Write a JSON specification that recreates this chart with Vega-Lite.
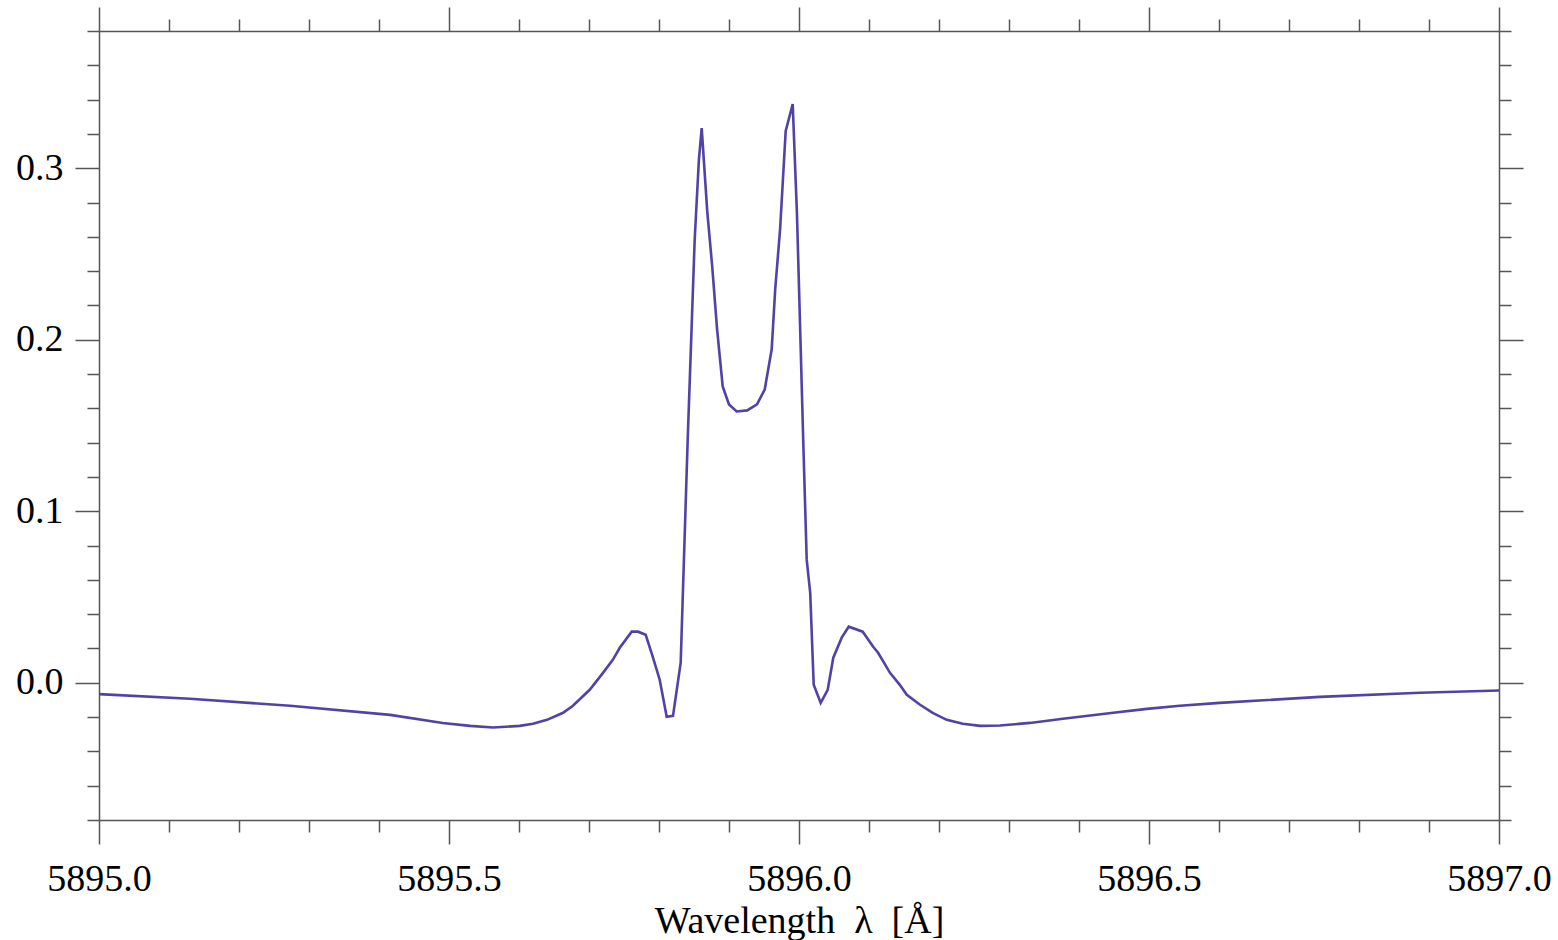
{
  "$schema": "https://vega.github.io/schema/vega-lite/v6.json",
  "autosize": "none",
  "width": 1400,
  "height": 789,
  "padding": {"left": 99, "top": 31, "right": 59, "bottom": 120},
  "background": "white",
  "config": {
    "view": {"stroke": null},
    "axis": {
      "labelFont": "Liberation Serif",
      "titleFont": "Liberation Serif",
      "labelFontSize": 38,
      "titleFontSize": 38,
      "titleFontWeight": "normal",
      "labelColor": "black",
      "titleColor": "black",
      "domainColor": "#555555",
      "tickColor": "#555555",
      "domainWidth": 1.5,
      "tickWidth": 1.5,
      "grid": false
    }
  },
  "data": {
    "values": [
      {"wl": 5895.000, "f": -0.0066},
      {"wl": 5895.130, "f": -0.0093},
      {"wl": 5895.273, "f": -0.0134},
      {"wl": 5895.416, "f": -0.0187},
      {"wl": 5895.491, "f": -0.0234},
      {"wl": 5895.530, "f": -0.0251},
      {"wl": 5895.563, "f": -0.0261},
      {"wl": 5895.601, "f": -0.0251},
      {"wl": 5895.620, "f": -0.0239},
      {"wl": 5895.640, "f": -0.0216},
      {"wl": 5895.663, "f": -0.0175},
      {"wl": 5895.677, "f": -0.0134},
      {"wl": 5895.701, "f": -0.0041},
      {"wl": 5895.720, "f": 0.0058},
      {"wl": 5895.734, "f": 0.0134},
      {"wl": 5895.744, "f": 0.0204},
      {"wl": 5895.761, "f": 0.0298},
      {"wl": 5895.770, "f": 0.0298},
      {"wl": 5895.781, "f": 0.0280},
      {"wl": 5895.791, "f": 0.0152},
      {"wl": 5895.801, "f": 0.0018},
      {"wl": 5895.811, "f": -0.0198},
      {"wl": 5895.820, "f": -0.0193},
      {"wl": 5895.831, "f": 0.0117},
      {"wl": 5895.841, "f": 0.1419},
      {"wl": 5895.851, "f": 0.2586},
      {"wl": 5895.857, "f": 0.3050},
      {"wl": 5895.861, "f": 0.3234},
      {"wl": 5895.869, "f": 0.2744},
      {"wl": 5895.876, "f": 0.2428},
      {"wl": 5895.883, "f": 0.2061},
      {"wl": 5895.891, "f": 0.1728},
      {"wl": 5895.900, "f": 0.1623},
      {"wl": 5895.911, "f": 0.1582},
      {"wl": 5895.926, "f": 0.1588},
      {"wl": 5895.940, "f": 0.1623},
      {"wl": 5895.951, "f": 0.1710},
      {"wl": 5895.961, "f": 0.1944},
      {"wl": 5895.966, "f": 0.2294},
      {"wl": 5895.973, "f": 0.2645},
      {"wl": 5895.981, "f": 0.3217},
      {"wl": 5895.991, "f": 0.3374},
      {"wl": 5895.997, "f": 0.2744},
      {"wl": 5896.001, "f": 0.2160},
      {"wl": 5896.006, "f": 0.1419},
      {"wl": 5896.011, "f": 0.0718},
      {"wl": 5896.016, "f": 0.0525},
      {"wl": 5896.021, "f": -0.0012},
      {"wl": 5896.031, "f": -0.0117},
      {"wl": 5896.041, "f": -0.0041},
      {"wl": 5896.049, "f": 0.0146},
      {"wl": 5896.061, "f": 0.0263},
      {"wl": 5896.071, "f": 0.0327},
      {"wl": 5896.091, "f": 0.0298},
      {"wl": 5896.106, "f": 0.0210},
      {"wl": 5896.113, "f": 0.0175},
      {"wl": 5896.130, "f": 0.0058},
      {"wl": 5896.144, "f": -0.0012},
      {"wl": 5896.154, "f": -0.0070},
      {"wl": 5896.173, "f": -0.0128},
      {"wl": 5896.191, "f": -0.0175},
      {"wl": 5896.211, "f": -0.0216},
      {"wl": 5896.234, "f": -0.0239},
      {"wl": 5896.259, "f": -0.0251},
      {"wl": 5896.287, "f": -0.0249},
      {"wl": 5896.330, "f": -0.0234},
      {"wl": 5896.377, "f": -0.0210},
      {"wl": 5896.449, "f": -0.0175},
      {"wl": 5896.497, "f": -0.0152},
      {"wl": 5896.544, "f": -0.0134},
      {"wl": 5896.601, "f": -0.0117},
      {"wl": 5896.744, "f": -0.0082},
      {"wl": 5896.887, "f": -0.0058},
      {"wl": 5897.000, "f": -0.0045}
    ]
  },
  "layer": [
    {
      "mark": {"type": "line", "color": "#5043a5", "strokeWidth": 2.6, "clip": true},
      "encoding": {
        "x": {
          "field": "wl", "type": "quantitative",
          "scale": {"domain": [5895, 5897], "nice": false, "zero": false},
          "axis": {
            "orient": "bottom",
            "values": [5895.0, 5895.1, 5895.2, 5895.3, 5895.4, 5895.5, 5895.6, 5895.7, 5895.8, 5895.9, 5896.0, 5896.1, 5896.2, 5896.3, 5896.4, 5896.5, 5896.6, 5896.7, 5896.8, 5896.9, 5897.0],
            "tickSize": {"condition": {"test": "abs(datum.value*2 - round(datum.value*2)) < 0.001", "value": 24}, "value": 12},
            "labelExpr": "abs(datum.value*2 - round(datum.value*2)) < 0.001 ? format(datum.value, '.1f') : ''",
            "labelPadding": 16,
            "labelFlush": false,
            "labelOverlap": false,
            "title": "Wavelength\u00a0\u00a0λ\u00a0\u00a0[Å]",
            "titlePadding": 4
          }
        },
        "y": {
          "field": "f", "type": "quantitative",
          "scale": {"domain": [-0.08, 0.38], "nice": false, "zero": false},
          "axis": {
            "orient": "left",
            "values": [-0.08, -0.06, -0.04, -0.02, 0.0, 0.02, 0.04, 0.06, 0.08, 0.1, 0.12, 0.14, 0.16, 0.18, 0.2, 0.22, 0.24, 0.26, 0.28, 0.3, 0.32, 0.34, 0.36, 0.38],
            "tickSize": {"condition": {"test": "abs(datum.value*10 - round(datum.value*10)) < 0.001", "value": 24}, "value": 12},
            "labelExpr": "abs(datum.value*10 - round(datum.value*10)) < 0.001 ? format(datum.value, '.1f') : ''",
            "labelPadding": 12,
            "labelFlush": false,
            "labelOverlap": false,
            "title": null
          }
        }
      }
    },
    {
      "mark": {"type": "line", "opacity": 0},
      "encoding": {
        "x": {
          "field": "wl", "type": "quantitative",
          "axis": {
            "orient": "top",
            "values": [5895.0, 5895.1, 5895.2, 5895.3, 5895.4, 5895.5, 5895.6, 5895.7, 5895.8, 5895.9, 5896.0, 5896.1, 5896.2, 5896.3, 5896.4, 5896.5, 5896.6, 5896.7, 5896.8, 5896.9, 5897.0],
            "tickSize": {"condition": {"test": "abs(datum.value*2 - round(datum.value*2)) < 0.001", "value": 24}, "value": 12},
            "labels": false,
            "title": null
          }
        },
        "y": {
          "field": "f", "type": "quantitative",
          "axis": {
            "orient": "right",
            "values": [-0.08, -0.06, -0.04, -0.02, 0.0, 0.02, 0.04, 0.06, 0.08, 0.1, 0.12, 0.14, 0.16, 0.18, 0.2, 0.22, 0.24, 0.26, 0.28, 0.3, 0.32, 0.34, 0.36, 0.38],
            "tickSize": {"condition": {"test": "abs(datum.value*10 - round(datum.value*10)) < 0.001", "value": 24}, "value": 12},
            "labels": false,
            "title": null
          }
        }
      }
    }
  ],
  "resolve": {"axis": {"x": "independent", "y": "independent"}}
}
